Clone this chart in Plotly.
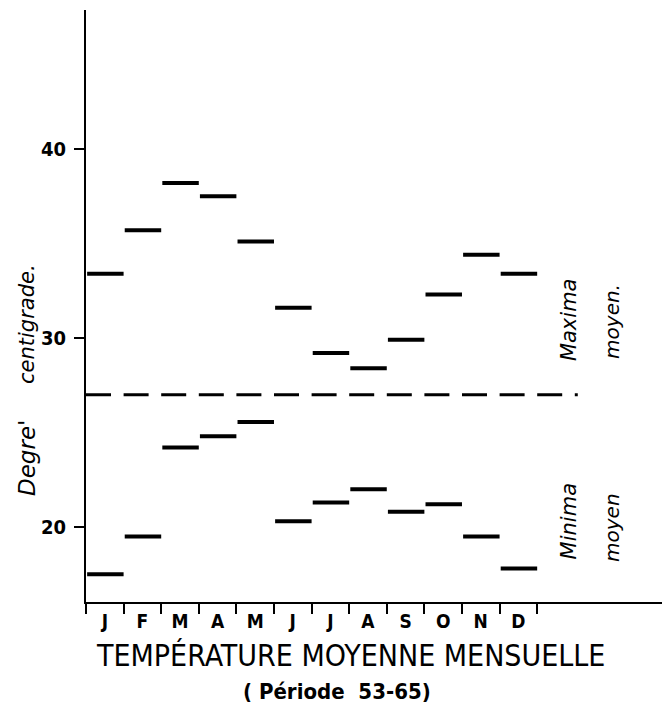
import plotly.graph_objects as go

months = ["J", "F", "M", "A", "M", "J", "J", "A", "S", "O", "N", "D"]
maxima = [33.4, 35.7, 38.2, 37.5, 35.1, 31.6, 29.2, 28.4, 29.9, 32.3, 34.4, 33.4]
minima = [17.5, 19.5, 24.2, 24.8, 25.55, 20.3, 21.3, 22.0, 20.8, 21.2, 19.5, 17.8]
separator = 27.0
y_ticks = [20, 30, 40]

COND = "DejaVu Sans Condensed, Liberation Sans Narrow, DejaVu Sans, sans-serif"
ITAL = "DejaVu Sans, sans-serif"


def steps(vals):
    xs, ys = [], []
    for i, v in enumerate(vals):
        xs += [i + 0.03, i + 1.0, None]
        ys += [v, v, None]
    return xs, ys


fig = go.Figure()
for vals in (maxima, minima):
    xs, ys = steps(vals)
    fig.add_trace(go.Scatter(x=xs, y=ys, mode="lines",
                             line=dict(color="black", width=4),
                             hoverinfo="skip", showlegend=False))

fig.add_trace(go.Scatter(x=[0, 13.08], y=[separator, separator], mode="lines",
                         line=dict(color="black", width=3, dash="25px,12.6px"),
                         hoverinfo="skip", showlegend=False))

fig.update_layout(
    width=669, height=709,
    margin=dict(l=86, r=7, t=10, b=107),
    paper_bgcolor="white", plot_bgcolor="white",
    showlegend=False,
    xaxis=dict(
        range=[0, 15.32], showgrid=False, zeroline=False,
        showline=True, linecolor="black", linewidth=2,
        tickmode="array", tickvals=[i + 0.5 for i in range(12)], ticktext=months,
        ticks="outside", ticklen=1, tickcolor="rgba(0,0,0,0)",
        tickfont=dict(family=COND, size=19, color="black", weight="bold"),
        minor=dict(tickmode="array", tickvals=list(range(13)), ticks="outside",
                   ticklen=10, tickwidth=2, tickcolor="black", showgrid=False),
    ),
    yaxis=dict(
        range=[16.03, 47.35], showgrid=False, zeroline=False,
        showline=True, linecolor="black", linewidth=2,
        tickmode="array", tickvals=y_ticks,
        ticks="outside", ticklen=10, tickwidth=2, tickcolor="black",
        tickfont=dict(family=COND, size=20, color="black", weight="bold"),
        ticklabelstandoff=4,
    ),
)

ann = [
    dict(text="TEMPÉRATURE MOYENNE MENSUELLE", x=0.459, y=-0.0912, xref="paper", yref="paper",
         xanchor="center", yanchor="middle", showarrow=False,
         font=dict(family=COND, size=30, color="black")),
    dict(text="( Période  53-65)", x=0.436, y=-0.152, xref="paper", yref="paper",
         xanchor="center", yanchor="middle", showarrow=False,
         font=dict(family=COND, size=22, color="black", weight="bold")),
    dict(text="centigrade.", x=-0.1024, y=(602 - 324) / 592, xref="paper", yref="paper",
         xanchor="center", yanchor="middle", showarrow=False, textangle=-90,
         font=dict(family=ITAL, size=21, color="black", style="italic")),
    dict(text="Degre'", x=-0.1024, y=(602 - 458) / 592, xref="paper", yref="paper",
         xanchor="center", yanchor="middle", showarrow=False, textangle=-90,
         font=dict(family=ITAL, size=23, color="black", style="italic")),
    dict(text="Maxima", x=12.85, y=30.95, xref="x", yref="y", showarrow=False,
         textangle=-90, font=dict(family=ITAL, size=21, color="black", style="italic")),
    dict(text="moyen.", x=13.99, y=30.9, xref="x", yref="y", showarrow=False,
         textangle=-90, font=dict(family=ITAL, size=20, color="black", style="italic")),
    dict(text="Minima", x=12.85, y=20.3, xref="x", yref="y", showarrow=False,
         textangle=-90, font=dict(family=ITAL, size=21, color="black", style="italic")),
    dict(text="moyen", x=13.99, y=20.0, xref="x", yref="y", showarrow=False,
         textangle=-90, font=dict(family=ITAL, size=20, color="black", style="italic")),
]
fig.update_layout(annotations=ann)

fig.write_html("out.html", config={"displayModeBar": False},
               post_script="document.body.style.margin='0';")
